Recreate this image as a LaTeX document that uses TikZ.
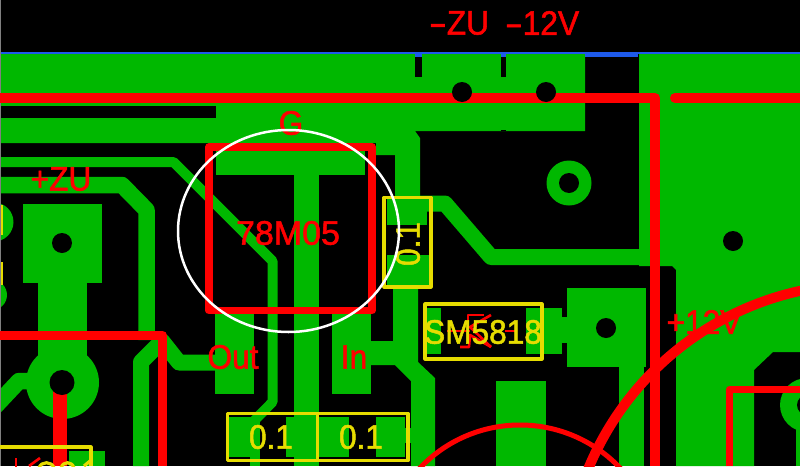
\documentclass[tikz,border=0pt]{standalone}
\usepackage{fontspec}
\setmainfont{Liberation Sans}
\newfontfamily\pcbfont[FakeStretch=0.93, FakeBold=1.5]{Liberation Sans}
\newfontfamily\pcbwide[FakeStretch=1.0, FakeBold=1.5]{Liberation Sans}
\usetikzlibrary{positioning, calc}
\definecolor{copper}{RGB}{0,184,0}
\definecolor{silk}{RGB}{230,220,0}
\definecolor{mark}{RGB}{255,0,0}
\definecolor{edgeblue}{RGB}{30,90,235}
\newcommand{\longdash}{\scalebox{1.7}[1]{-}}
\tikzstyle{pad} = [fill=copper, draw=none]
\tikzstyle{track} = [draw=copper, line join=round]
\tikzstyle{drill} = [fill=black, draw=none]
\tikzstyle{wire} = [draw=mark, line join=round]
\tikzstyle{outline} = [draw=silk, line width=3.2pt, line join=round]
\tikzstyle{redtext} = [text=mark, inner sep=0pt, font=\pcbfont\fontsize{34}{34}\selectfont]
\tikzstyle{yellowtext} = [text=silk, inner sep=0pt, font=\pcbfont\fontsize{34}{34}\selectfont]

\begin{document}
\begin{tikzpicture}[x=1pt, y=-1pt]
    \useasboundingbox (0,0) rectangle (800,466);
    \clip (0,0) rectangle (800,466);
    \fill[black] (0,0) rectangle (800,466);

    % copper: top band and right plane
    \fill[pad] (0,53) -- (585,53) -- (585,131) -- (415,131) -- (420,138) -- (420,197) -- (395,197)
        -- (395,155) -- (376,155) -- (376,143) -- (0,143) -- cycle;
    \fill[pad] (639,53) -- (800,53) -- (800,352) -- (773,352) -- (754,370) -- (754,466) -- (676,466)
        -- (676,270) -- (672,266) -- (639,266) -- cycle;
    % slits beside the two pads
    \fill[black] (415,57) rectangle (422,77);
    \fill[black] (501,57) rectangle (506,77);
    \fill[black] (501,130) rectangle (506,131);
    \fill[black] (0,106) rectangle (216,118);
    % T under the regulator
    \fill[pad] (216,143) rectangle (365,175);
    \fill[pad] (294,175) rectangle (319,466);
    \fill[pad] (215,313) rectangle (254,394);
    \fill[pad] (332,313) rectangle (371,394);
    % small traces
    \draw[track, line width=10pt] (0,162) -- (173.5,162) -- (272.5,261) -- (272.5,402) -- (250,425);
    \draw[track, line width=16.5pt] (0,185) -- (122,185) -- (146.5,210) -- (146.5,340);
    \draw[track, line width=16pt] (141,466) -- (141,362) -- (162,341) -- (179,362.5) -- (216,362.5);
    \draw[track, line width=16.5pt] (-12,414) -- (19,381) -- (32,381);
    \draw[track, line width=16pt] (420,203.5) -- (445,203.5) -- (491,257) -- (640,257);
    \fill[pad] (393,288) -- (418,288) -- (418,362) -- (435,378) -- (435,466) -- (411,466) -- (411,381)
        -- (395,365) -- (371,365) -- (371,341) -- (393,341) -- cycle;
    % left pad with neck and round pad
    \fill[pad] (23,204) rectangle (102,283);
    \fill[pad] (38,283) rectangle (87,370);
    \fill[pad] (62.5,382.5) circle (36.5);
    \fill[pad] (-6,222) circle (19.5);
    \fill[pad] (-8,295) circle (15);
    \fill[pad] (69,451) rectangle (105,466);
    % ring
    \fill[pad] (569,183) circle (22.5);
    \fill[drill] (569,183) circle (10);
    % cap 0.1 upright
    \fill[pad] (387,196) rectangle (427,225);
    \fill[pad] (387,255) rectangle (429,288);
    % diode pads
    \fill[pad] (425,308) rectangle (441,354);
    \fill[pad] (526,308) rectangle (562,354);
    \fill[pad] (562,317) rectangle (567,343);
    \fill[pad] (567,288) rectangle (646,367);
    \fill[pad] (619,367) rectangle (644,466);
    \fill[pad] (496,381) rectangle (546,466);
    \fill[drill] (606,328) circle (10);
    % caps below
    \fill[pad] (229,417) rectangle (260,457);
    \fill[pad] (250,457) rectangle (260,466);
    \fill[pad] (286,417) rectangle (316,457);
    \fill[pad] (319,417) rectangle (349,457);
    \fill[pad] (376,417) rectangle (405,457);
    \fill[pad] (405,428) rectangle (411,443);
    % ring at right edge
    \fill[pad] (807,405) circle (27);
    \fill[drill] (807,405) circle (10);
    \fill[pad] (796,425) rectangle (800,466);

    % edge of board
    \fill[edgeblue] (0,52) rectangle (800,53.5);
    \fill[edgeblue] (415,52) rectangle (422,57);
    \fill[edgeblue] (501,52) rectangle (506,57);
    \fill[edgeblue] (585,52) rectangle (638,57);
    \fill[gray] (0,0) rectangle (1,466);

    % red wires
    \draw[wire, line width=10pt] (0,98) -- (655,98) -- (655,466);
    \draw[wire, line width=10pt, line cap=round] (675,98) -- (800,98);
    \draw[wire, line width=7.5pt] (209,147) rectangle (372,310.5);
    \draw[wire, line width=9pt] (0,335.5) -- (162.5,335.5) -- (162.5,466);
    \draw[wire, line width=14pt] (60,385) -- (60,466);
    \draw[wire, line width=10pt] (864,582) circle (298);
    \draw[wire, line width=5pt] (520,563) circle (138);
    \draw[wire, line width=7pt] (729.5,466) -- (729.5,389.5) -- (800,389.5);
    % diode symbol
    \draw[wire, line width=2.6pt] (447,331) -- (470,331);
    \draw[wire, line width=2.6pt] (484,315) -- (468,315) -- (468,332);
    \draw[wire, line width=2.6pt] (460,347) -- (469,347) -- (470,335) -- (491,347);
    \draw[wire, line width=2.6pt] (491,315) -- (470,327) -- (491,347);
    \draw[wire, line width=2.6pt] (505,331) -- (517,331);
    % cut-off marks at the bottom
    \draw[wire, line width=2.6pt] (16,458) -- (16,467);
    \draw[wire, line width=2.6pt] (29,466) -- (40,458);

    % drills
    \fill[drill] (462,92) circle (10);
    \fill[drill] (546,92) circle (10);
    \fill[drill] (733,241) circle (10);
    \fill[drill] (62,243) circle (10);
    \fill[drill] (62,382.5) circle (12.5);

    % silk
    \draw[outline] (384,197.5) rectangle (431,287);
    \draw[outline] (425,304) rectangle (542,359);
    \draw[outline] (227.5,413.5) rectangle (317.5,460.5);
    \draw[outline] (317.5,413.5) rectangle (408,460.5);
    \draw[outline] (0,447) -- (91,447) -- (91,466);
    \fill[silk] (1,205) rectangle (3,235);
    \fill[silk] (1,262) rectangle (3,285);
    \draw[outline] (39,468) .. controls (41,461) and (52,461) .. (54,468);
    \draw[outline] (61,468) .. controls (63,461) and (72,461) .. (74,468);
    \draw[outline] (84,466) -- (90,461);
    \node (capa) [yellowtext] at (271,437) {0.1};
    \node (capb) [yellowtext] at (361,437) {0.1};
    \node (capc) [yellowtext, rotate=90] at (408,244) {0.1};
    \node (diode) [yellowtext] at (483,332) {SM5818};

    % red labels
    \node (zuneg) [redtext] at (459,23) {\longdash ZU};
    \node (vneg) [redtext] at (542,23) {\longdash 12V};
    \node (gnd) [redtext] at (291,123) {G};
    \node (zupos) [redtext] at (61,179) {+ZU};
    \node (reg) [redtext, font=\pcbwide\fontsize{34}{34}\selectfont] at (288,233) {78M05};
    \node (out) [redtext] at (233,357) {Out};
    \node (in) [redtext] at (354,357) {In};
    \node (vpos) [redtext] at (704,322) {+12V};

    % white circle
    \draw[white, line width=2.5pt] (288.5,231) ellipse (110.5 and 101);
\end{tikzpicture}
\end{document}
